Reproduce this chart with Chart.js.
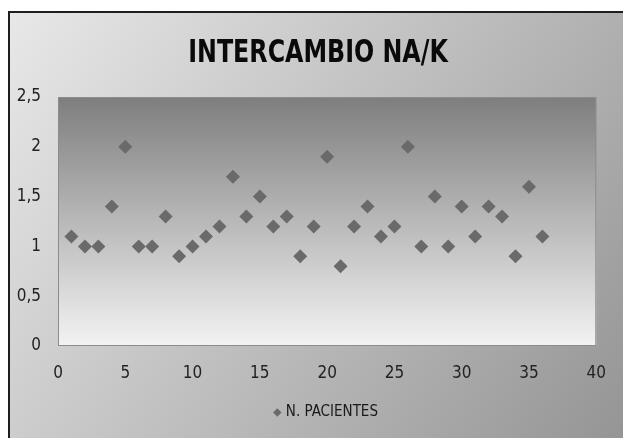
<!DOCTYPE html>
<html>
<head>
<meta charset="utf-8">
<title>Intercambio NA/K</title>
<script src="https://cdn.jsdelivr.net/npm/chart.js@4.4.1/dist/chart.umd.min.js"></script>
<style>
    html, body { margin: 0; padding: 0; background: #fff; }
    #wrap { width: 623px; height: 438px; }
</style>
</head>
<body>
<div id="wrap"><canvas id="naKChart" width="623" height="438"></canvas></div>
<script>
// Patient number and Na/K exchange ratio
const pacientes = [1, 2, 3, 4, 5, 6, 7, 8, 9, 10, 11, 12, 13, 14, 15, 16, 17, 18,
                   19, 20, 21, 22, 23, 24, 25, 26, 27, 28, 29, 30, 31, 32, 33, 34, 35, 36];
const intercambio = [1.1, 1.0, 1.0, 1.4, 2.0, 1.0, 1.0, 1.3, 0.9, 1.0, 1.1, 1.2,
                     1.7, 1.3, 1.5, 1.2, 1.3, 0.9, 1.2, 1.9, 0.8, 1.2, 1.4, 1.1,
                     1.2, 2.0, 1.0, 1.5, 1.0, 1.4, 1.1, 1.4, 1.3, 0.9, 1.6, 1.1];
const xTicks = [0, 5, 10, 15, 20, 25, 30, 35, 40];
const yTicks = [0, 0.5, 1, 1.5, 2, 2.5];

const chartTitle = 'INTERCAMBIO NA/K';
const seriesLabel = 'N. PACIENTES';

const FONT = '"Liberation Sans Narrow", "DejaVu Sans Condensed", Arial, sans-serif';

// Gray gradient frame, plot area fill and the title
const backdrop = {
    id: 'backdrop',
    beforeDraw(chart) {
        const { ctx, width, height, chartArea: a } = chart;
        ctx.save();
        ctx.fillStyle = '#ffffff';
        ctx.fillRect(0, 0, width, height);

        const outer = ctx.createLinearGradient(8, 12, width, height);
        outer.addColorStop(0, '#e8e8e8');
        outer.addColorStop(1, '#959595');
        ctx.fillStyle = outer;
        ctx.fillRect(8, 12, width - 8, height - 12);

        ctx.strokeStyle = '#1e1e1e';
        ctx.lineWidth = 2;
        ctx.beginPath();
        ctx.moveTo(9, height);
        ctx.lineTo(9, 12);
        ctx.lineTo(width, 12);
        ctx.stroke();

        const inner = ctx.createLinearGradient(0, a.top, 0, a.bottom);
        inner.addColorStop(0, '#7e7e7e');
        inner.addColorStop(1, '#f3f3f3');
        ctx.fillStyle = inner;
        ctx.fillRect(a.left, a.top, a.right - a.left, a.bottom - a.top);
        ctx.strokeStyle = '#8c8c8c';
        ctx.lineWidth = 1;
        ctx.strokeRect(a.left + 0.5, a.top + 0.5, a.right - a.left - 1, a.bottom - a.top - 1);

        // condensed bold title
        ctx.translate(318, 62);
        ctx.scale(0.825, 1);
        ctx.fillStyle = '#0a0a0a';
        ctx.font = 'bold 32px ' + FONT;
        ctx.textAlign = 'center';
        ctx.textBaseline = 'alphabetic';
        ctx.fillText(chartTitle, 0, 0);
        ctx.restore();
    }
};

const ctx = document.getElementById('naKChart').getContext('2d');
new Chart(ctx, {
    type: 'scatter',
    data: {
        datasets: [{
            label: seriesLabel,
            data: pacientes.map((p, i) => ({ x: p, y: intercambio[i] })),
            pointStyle: 'rectRot',
            pointRadius: 7,
            pointHoverRadius: 7,
            backgroundColor: '#6a6a6a',
            borderColor: '#6a6a6a',
            borderWidth: 0
        }]
    },
    options: {
        responsive: false,
        animation: false,
        layout: {
            padding: { left: 0, right: 18, top: 97, bottom: 8 }
        },
        plugins: {
            tooltip: { enabled: false },
            title: { display: false },
            legend: {
                position: 'bottom',
                fullSize: false,
                labels: {
                    usePointStyle: true,
                    boxWidth: 2,
                    boxHeight: 6,
                    padding: 11,
                    color: '#1a1a1a',
                    font: { family: FONT, size: 15 }
                }
            }
        },
        scales: {
            x: {
                type: 'linear',
                min: 0,
                max: 40,
                afterBuildTicks: scale => { scale.ticks = xTicks.map(v => ({ value: v })); },
                afterFit: scale => { scale.height = 48; },
                grid: { display: false, drawTicks: false },
                border: { display: false },
                ticks: {
                    padding: 17,
                    color: '#222',
                    font: { family: FONT, size: 17 },
                    maxRotation: 0
                }
            },
            y: {
                type: 'linear',
                min: 0,
                max: 2.5,
                afterBuildTicks: scale => { scale.ticks = yTicks.map(v => ({ value: v })); },
                afterFit: scale => { scale.width = 58; },
                grid: { display: false, drawTicks: false },
                border: { display: false },
                ticks: {
                    padding: 17,
                    color: '#222',
                    font: { family: FONT, size: 17 },
                    callback: v => String(v).replace('.', ',')
                }
            }
        }
    },
    plugins: [backdrop]
});
</script>
</body>
</html>
